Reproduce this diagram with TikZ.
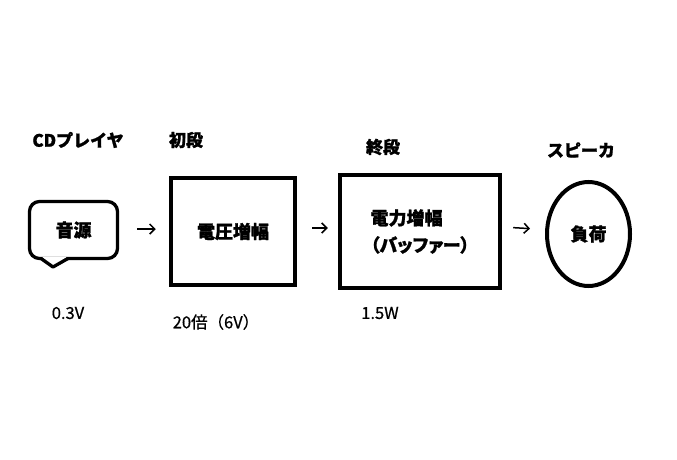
\documentclass[tikz,border=0pt]{standalone}
\usepackage{fontspec}
\setmainfont{Noto Sans CJK JP}[BoldFeatures={FakeBold=1.2}]
\newfontfamily\labfont{Noto Sans CJK JP}[FakeBold=0.6]
\newfontfamily\paltfont{Noto Sans CJK JP}[RawFeature=+palt, BoldFeatures={FakeBold=1.2}]
\usetikzlibrary{arrows.meta,shapes.geometric}
\tikzset{
  head/.style={font=\fontsize{17}{20}\selectfont\bfseries, inner sep=0pt},
  lab/.style={font=\labfont\fontsize{16.5}{19}\selectfont, inner sep=0pt},
  inner/.style={font=\fontsize{18}{27}\selectfont\bfseries},
  blockbox/.style={draw, line width=4.5pt, inner/.try, inner sep=0pt},
  arr/.style={-{Straight Barb[length=5pt,width=10pt,line width=1.5pt]}, line width=1.5pt}
}
\begin{document}
\begin{tikzpicture}[x=1pt,y=-1pt]
\useasboundingbox (0,0) rectangle (677,460);
% source bubble
\node[inner, draw, line width=3.3pt, rounded corners=10pt, minimum width=88pt, minimum height=57pt, inner sep=0pt] (src) at (73.5,230) {音源};
\fill[white] (42,257) -- (53,266) -- (67,257) -- cycle;
\draw[line width=3.3pt, line join=round] (41,258.5) -- (53,267) -- (68,258.5);
% boxes
\node[blockbox, minimum width=124pt, minimum height=107pt] (b1) at (233,231.5) {電圧増幅};
\node[blockbox, minimum width=160pt, minimum height=113pt, align=left, font=\paltfont\fontsize{18}{27}\selectfont\bfseries] (b2) at (420,231.5) {電力増幅\\（バッファー）};
\node[ellipse, draw, line width=4pt, inner, minimum width=83pt, minimum height=104pt, inner sep=0pt] (spk) at (588.5,234) {負荷};
% arrows
\draw[arr, shorten <=18pt, shorten >=13pt] ([yshift=1pt]src.east) -- ([yshift=2.5pt]b1.west);
\draw[arr, shorten <=15pt, shorten >=10pt] ([yshift=3.5pt]b1.east) -- ([yshift=3.5pt]b2.west);
\draw[arr, shorten <=11pt, shorten >=15pt] ([yshift=4.5pt]b2.east) -- ([yshift=4.5pt]spk.west);
% headings
\node[head] (h1) at (78,140) {CDプレイヤ};
\node[head] (h2) at (186,140) {初段};
\node[head] (h3) at (383,147) {終段};
\node[head] (h4) at (581,150) {スピーカ};
% labels
\node[lab] (l1) at (68,313) {0.3V};
\node[lab] (l2) at (216,322) {20倍（6V）};
\node[lab] (l3) at (380,313) {1.5W};
\end{tikzpicture}
\end{document}
